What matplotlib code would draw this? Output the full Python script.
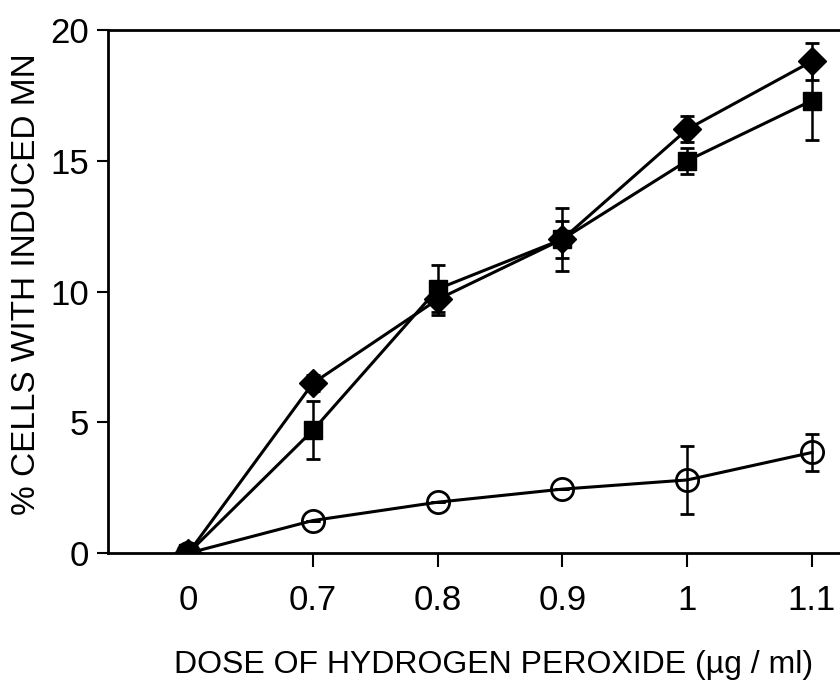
import matplotlib.pyplot as plt

doses = ["0", "0.7", "0.8", "0.9", "1", "1.1"]

diamond_vals = [0, 6.5, 9.7, 12.0, 16.2, 18.8]
diamond_err = [0, 0.3, 0.6, 1.2, 0.5, 0.7]

square_vals = [0, 4.7, 10.1, 12.0, 15.0, 17.3]
square_err = [0, 1.1, 0.9, 0.7, 0.5, 1.5]

circle_vals = [0, 1.25, 1.95, 2.45, 2.8, 3.85]
circle_err = [0, 0, 0, 0, 1.3, 0.7]

plt.rcParams['font.family'] = ['Liberation Sans', 'DejaVu Sans']

fig = plt.figure(figsize=(8.4, 6.95), dpi=100)
ax = fig.add_axes([0.129, 0.204, 0.9, 0.753])

x = list(range(len(doses)))
style = dict(color='black', lw=2.2, capsize=5, elinewidth=1.8, capthick=2)

# open circles first so the filled markers at zero sit on top
ax.errorbar(x, circle_vals, yerr=circle_err, marker='o', ms=16,
            mfc='none', mec='black', mew=2, **style)
ax.errorbar(x, diamond_vals, yerr=diamond_err, marker='D', ms=14, **style)
ax.errorbar(x, square_vals, yerr=square_err, marker='s', ms=13, **style)

ax.set_xlim(-0.64, 5.42)
ax.set_ylim(0, 20)
ax.set_xticks(x)
ax.set_xticklabels(doses, fontsize=25)
ax.set_yticks([0, 5, 10, 15, 20])
ax.tick_params(axis='y', labelsize=25, length=8, width=1.5, direction='out', pad=6)
ax.tick_params(axis='x', length=10, width=1.5, direction='out', pad=12)
ax.xaxis.get_major_ticks()[0].tick1line.set_visible(False)

ax.spines['right'].set_visible(False)
for s in ['left', 'bottom', 'top']:
    ax.spines[s].set_linewidth(2)

ax.set_ylabel("% CELLS WITH INDUCED MN", fontsize=24)
ax.yaxis.set_label_coords(-0.088, 0.515)
ax.set_xlabel("DOSE OF HYDROGEN PEROXIDE (\u00b5g / ml)", fontsize=23)
ax.xaxis.set_label_coords(0.509, -0.185)

fig.savefig("out.png", dpi=100)
